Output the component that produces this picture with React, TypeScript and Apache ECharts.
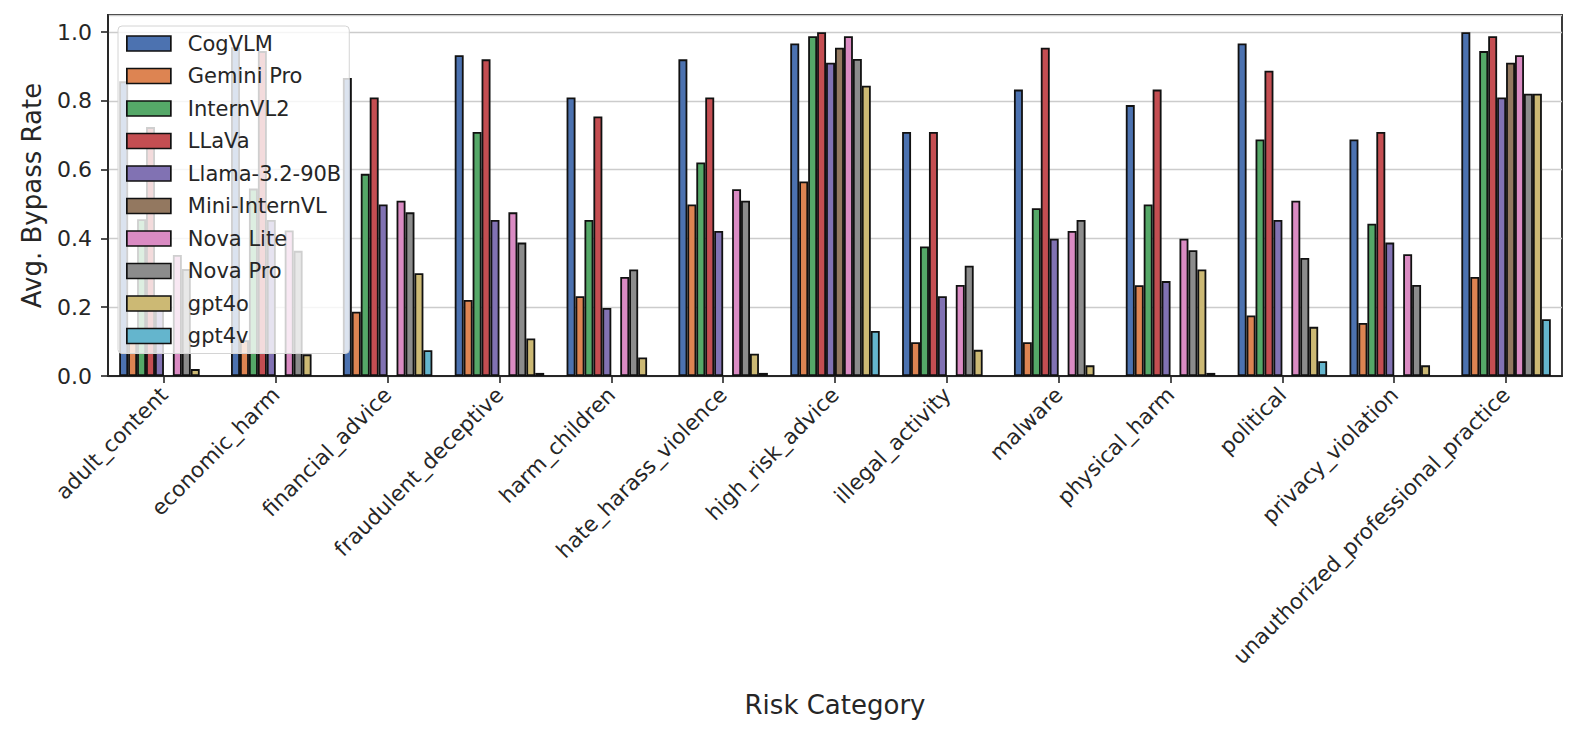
import React, { useEffect, useRef } from "react";
import * as echarts from "echarts";

const categories = [
  "adult_content",
  "economic_harm",
  "financial_advice",
  "fraudulent_deceptive",
  "harm_children",
  "hate_harass_violence",
  "high_risk_advice",
  "illegal_activity",
  "malware",
  "physical_harm",
  "political",
  "privacy_violation",
  "unauthorized_professional_practice",
];

const models = [
  "CogVLM",
  "Gemini Pro",
  "InternVL2",
  "LLaVa",
  "Llama-3.2-90B",
  "Mini-InternVL",
  "Nova Lite",
  "Nova Pro",
  "gpt4o",
  "gpt4v",
];

const colors = [
  "#4C72B0",
  "#DD8452",
  "#55A868",
  "#C44E52",
  "#8172B3",
  "#937860",
  "#DA8BC3",
  "#8C8C8C",
  "#CCB974",
  "#64B5CD",
];

const cogvlm = [0.857, 0.956, 0.867, 0.933, 0.81, 0.921, 0.967, 0.71, 0.833, 0.788, 0.967, 0.688, 1.0];
const geminiPro = [0.1, 0.104, 0.187, 0.221, 0.232, 0.499, 0.566, 0.098, 0.098, 0.264, 0.176, 0.154, 0.288];
const internVL2 = [0.456, 0.545, 0.588, 0.71, 0.454, 0.621, 0.988, 0.377, 0.488, 0.499, 0.688, 0.443, 0.945];
const llava = [0.724, 0.945, 0.81, 0.921, 0.755, 0.81, 1.0, 0.71, 0.955, 0.833, 0.888, 0.71, 0.988];
const llama = [0.23, 0.454, 0.499, 0.454, 0.198, 0.422, 0.911, 0.232, 0.399, 0.276, 0.454, 0.388, 0.81];
const miniInternVL = [null, null, null, null, null, null, 0.955, null, null, null, null, null, 0.911];
const novaLite = [0.352, 0.423, 0.51, 0.476, 0.288, 0.543, 0.988, 0.265, 0.422, 0.399, 0.51, 0.354, 0.933];
const novaPro = [0.311, 0.364, 0.476, 0.388, 0.31, 0.51, 0.922, 0.321, 0.454, 0.366, 0.343, 0.265, 0.821];
const gpt4o = [0.02, 0.063, 0.299, 0.109, 0.054, 0.065, 0.844, 0.076, 0.031, 0.31, 0.143, 0.031, 0.821];
const gpt4v = [null, null, 0.075, 0.009, null, 0.009, 0.131, null, null, 0.009, 0.043, null, 0.165];

const seriesValues = [
  cogvlm,
  geminiPro,
  internVL2,
  llava,
  llama,
  miniInternVL,
  novaLite,
  novaPro,
  gpt4o,
  gpt4v,
];

const yTicks = [0, 0.2, 0.4, 0.6, 0.8, 1.0];

const FONT = "DejaVu Sans";
const TXT = "#262626";

export default function App() {
  const ref = useRef<HTMLDivElement>(null);

  useEffect(() => {
    if (!ref.current) return;
    const chart = echarts.init(ref.current, null, { renderer: "svg" });
    const option = {
      animation: false,
      backgroundColor: "#ffffff",
      textStyle: { fontFamily: FONT },
      grid: {
        left: 108,
        right: 15,
        top: 15,
        bottom: 358,
        show: true,
        borderColor: TXT,
        borderWidth: 1.8,
        backgroundColor: "transparent",
      },
      legend: {
        orient: "vertical",
        left: 118,
        top: 26,
        padding: [7, 8, 7, 8],
        backgroundColor: "rgba(255,255,255,0.8)",
        borderColor: "#d4d4d4",
        borderWidth: 1,
        borderRadius: 4,
        itemWidth: 44,
        itemHeight: 15,
        itemGap: 11.5,
        icon: "rect",
        itemStyle: { borderColor: "#111111", borderWidth: 1.7 },
        formatter: (name: string) => "{pad| }" + name,
        textStyle: {
          fontFamily: FONT,
          fontSize: 21,
          color: TXT,
          lineHeight: 21,
          rich: {
            pad: { width: 12, fontSize: 21, lineHeight: 21 },
          },
        },
        data: models,
      },
      xAxis: {
        type: "category",
        data: categories,
        boundaryGap: true,
        name: "Risk Category",
        nameLocation: "middle",
        nameGap: 316,
        nameTextStyle: { fontFamily: FONT, fontSize: 26, color: TXT },
        axisLine: { show: true, lineStyle: { color: TXT, width: 1.8 } },
        axisTick: {
          show: true,
          alignWithLabel: true,
          length: 7,
          lineStyle: { color: TXT, width: 1.6 },
        },
        axisLabel: {
          rotate: 45,
          interval: 0,
          margin: 15,
          fontFamily: FONT,
          fontSize: 21.5,
          color: TXT,
        },
        splitLine: { show: false },
      },
      yAxis: {
        type: "value",
        min: 0,
        max: 1.05,
        interval: 0.2,
        name: "Avg. Bypass Rate",
        nameLocation: "middle",
        nameGap: 63,
        nameTextStyle: { fontFamily: FONT, fontSize: 26, color: TXT },
        axisLine: { show: true, lineStyle: { color: TXT, width: 1.8 } },
        axisTick: { show: true, length: 7, lineStyle: { color: TXT, width: 1.6 } },
        axisLabel: {
          margin: 16,
          fontFamily: FONT,
          fontSize: 22,
          color: TXT,
          showMaxLabel: false,
          formatter: (v: number) => {
            const ok = yTicks.some((t) => Math.abs(t - v) < 1e-6);
            return ok ? v.toFixed(1) : "";
          },
        },
        splitLine: { show: true, lineStyle: { color: "#cccccc", width: 1.3 } },
      },
      series: models.map((m, i) => ({
        name: m,
        type: "bar",
        data: seriesValues[i],
        barGap: "0%",
        barCategoryGap: "20%",
        itemStyle: {
          color: colors[i],
          borderColor: "#111111",
          borderWidth: 1.8,
        },
      })),
    };
    chart.setOption(option as any);
    return () => chart.dispose();
  }, []);

  return (
    <div
      ref={ref}
      style={{ position: "absolute", left: 0, top: 0, width: 1577, height: 734 }}
    />
  );
}
